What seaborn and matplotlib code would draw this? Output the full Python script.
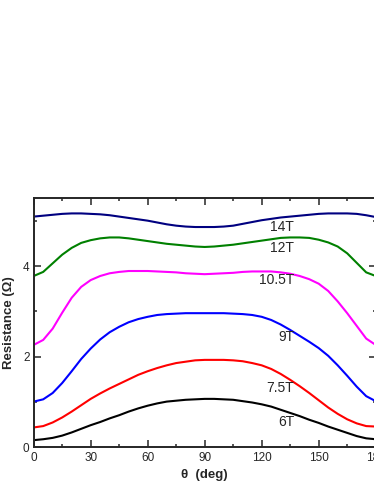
import numpy as np
import pandas as pd
import matplotlib
matplotlib.use("Agg")
import matplotlib.pyplot as plt
import seaborn as sns
from matplotlib.ticker import MultipleLocator

angles = list(range(0, 181, 5))

r_6T = [0.16, 0.18, 0.21, 0.26, 0.33, 0.41, 0.49, 0.56, 0.64, 0.71, 0.79, 0.86, 0.92,
        0.97, 1.01, 1.03, 1.05, 1.06, 1.07, 1.07, 1.06, 1.05, 1.02, 0.99, 0.95, 0.90,
        0.83, 0.76, 0.69, 0.61, 0.54, 0.46, 0.39, 0.32, 0.25, 0.20, 0.18]
r_7_5T = [0.44, 0.47, 0.55, 0.66, 0.79, 0.93, 1.07, 1.19, 1.30, 1.40, 1.50, 1.60, 1.68,
          1.75, 1.81, 1.86, 1.89, 1.92, 1.93, 1.93, 1.93, 1.92, 1.90, 1.86, 1.81, 1.73,
          1.62, 1.49, 1.35, 1.20, 1.04, 0.88, 0.74, 0.62, 0.53, 0.47, 0.46]
r_9T = [1.01, 1.06, 1.20, 1.42, 1.68, 1.95, 2.18, 2.38, 2.54, 2.66, 2.76, 2.83, 2.88,
        2.92, 2.94, 2.95, 2.96, 2.96, 2.96, 2.96, 2.96, 2.95, 2.94, 2.92, 2.88, 2.81,
        2.71, 2.59, 2.46, 2.33, 2.19, 2.02, 1.81, 1.58, 1.34, 1.13, 1.02]
r_10_5T = [2.26, 2.37, 2.62, 2.97, 3.30, 3.54, 3.69, 3.78, 3.84, 3.87, 3.89, 3.89, 3.89,
           3.88, 3.87, 3.86, 3.84, 3.83, 3.82, 3.83, 3.84, 3.85, 3.87, 3.88, 3.88, 3.88,
           3.86, 3.83, 3.78, 3.71, 3.61, 3.45, 3.22, 2.96, 2.68, 2.40, 2.26]
r_12T = [3.78, 3.87, 4.06, 4.25, 4.40, 4.51, 4.57, 4.61, 4.63, 4.63, 4.61, 4.58, 4.55,
         4.52, 4.49, 4.47, 4.45, 4.43, 4.42, 4.43, 4.45, 4.47, 4.50, 4.53, 4.56, 4.59,
         4.62, 4.63, 4.63, 4.62, 4.58, 4.52, 4.43, 4.28, 4.07, 3.86, 3.78]
r_14T = [5.09, 5.11, 5.13, 5.15, 5.16, 5.16, 5.15, 5.14, 5.12, 5.09, 5.06, 5.03, 5.00,
         4.96, 4.92, 4.89, 4.87, 4.86, 4.86, 4.86, 4.87, 4.89, 4.93, 4.97, 5.01, 5.04,
         5.07, 5.09, 5.11, 5.13, 5.15, 5.16, 5.16, 5.16, 5.15, 5.12, 5.08]

fields = ["6T", "7.5T", "9T", "10.5T", "12T", "14T"]
series = [r_6T, r_7_5T, r_9T, r_10_5T, r_12T, r_14T]
colors = ["#000000", "#ff0000", "#0000ff", "#ff00ff", "#008000", "#000080"]
label_y = [0.57, 1.31, 2.44, 3.70, 4.40, 4.87]
label_x = 137

df = pd.concat([pd.DataFrame({"theta": angles, "R": s, "field": f})
                for f, s in zip(fields, series)], ignore_index=True)

sns.set_style("ticks")
plt.rcParams["font.family"] = ["Liberation Sans", "DejaVu Sans"]

fig = plt.figure(figsize=(3.74, 4.84), dpi=100)
ax = fig.add_axes([33.7 / 374, (484 - 447.4) / 484, 342 / 374, (447.4 - 198) / 484])

sns.lineplot(data=df, x="theta", y="R", hue="field", palette=dict(zip(fields, colors)),
             hue_order=fields, legend=False, lw=1.5, ax=ax)

for f, y in zip(fields, label_y):
    ax.text(label_x, y, f, ha="right", va="center", fontsize=10)

ax.set_xlim(0, 180)
ax.set_ylim(0, 5.5)
ax.xaxis.set_major_locator(MultipleLocator(30))
ax.xaxis.set_minor_locator(MultipleLocator(15))
ax.yaxis.set_major_locator(MultipleLocator(2))
ax.yaxis.set_minor_locator(MultipleLocator(1))
ax.tick_params(which="both", direction="in", top=True, right=True, width=1.1,
               labelsize=8.5, pad=3)
ax.tick_params(which="major", length=5)
ax.tick_params(which="minor", length=2.5)
for sp in ax.spines.values():
    sp.set_linewidth(1.4)
    sp.set_visible(True)

ax.set_xlabel("θ  (deg)", fontsize=9.5, fontweight="bold", labelpad=4)
ax.set_ylabel("Resistance (Ω)", fontsize=9.5, fontweight="bold", labelpad=6)

fig.savefig("out.png", dpi=100)
